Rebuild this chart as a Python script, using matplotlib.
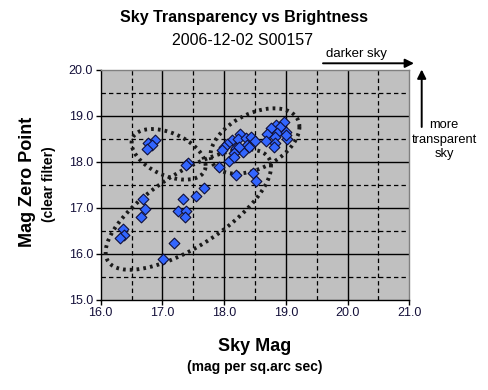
import numpy as np
import matplotlib
matplotlib.use("Agg")
import matplotlib.pyplot as plt

# ---- data ----
sky_mag = [
    16.88, 16.77, 16.83, 16.745,
    17.41, 17.38,
    16.69, 16.72, 16.65,
    16.36, 16.38, 16.32,
    17.19, 17.005,
    17.33, 17.25, 17.38, 17.37,
    17.545, 17.67, 17.917,
    18.19, 18.46, 18.52,
    18.258,
    18.971, 18.841, 18.906, 18.76, 18.69, 18.85, 19.003, 19.02, 19.01,
    18.825, 18.68, 18.825, 18.81,
    18.123, 18.22, 18.355, 18.43, 18.50, 18.366, 18.40, 18.04, 17.998,
    17.96, 18.20, 18.31, 18.165, 18.08, 18.165, 18.245,
]
zero_point = [
    18.47, 18.41, 18.36, 18.28,
    17.98, 17.93,
    17.19, 16.97, 16.80,
    16.54, 16.41, 16.35,
    16.23, 15.88,
    17.19, 16.93, 16.93, 16.80,
    17.26, 17.43, 17.88,
    17.71, 17.75, 17.57,
    18.61,
    18.87, 18.80, 18.76, 18.73, 18.60, 18.62, 18.65, 18.49, 18.57,
    18.54, 18.46, 18.41, 18.33,
    18.47, 18.49, 18.52, 18.54, 18.46, 18.36, 18.33, 18.38, 18.31,
    18.25, 18.30, 18.22, 18.20, 18.02, 18.11, 18.33,
]

x_ticks = [16.0, 17.0, 18.0, 19.0, 20.0, 21.0]
y_ticks = [15.0, 16.0, 17.0, 18.0, 19.0, 20.0]

# grouping ellipses: centre x, centre y, half-width x, half-height y, correlation
ellipse_cx = [17.10, 17.42, 18.50]
ellipse_cy = [18.16, 16.96, 18.45]
ellipse_sx = [0.60, 1.34, 0.72]
ellipse_sy = [0.55, 1.31, 0.71]
ellipse_rho = [-0.45, 0.71, 0.43]

title = "Sky Transparency vs Brightness"
subtitle = "2006-12-02 S00157"

plt.rcParams['font.family'] = ['Liberation Sans', 'DejaVu Sans']

W, H = 488, 390
fig = plt.figure(figsize=(W / 100, H / 100), dpi=100)
ax = fig.add_axes([100.7 / W, 1 - 299.7 / H, 308.6 / W, 230.0 / H])
ax.set_facecolor('#C0C0C0')
ax.set_xlim(16, 21)
ax.set_ylim(15, 20)

# grid
for v in np.arange(16.5, 21, 1.0):
    ax.axvline(v, color='black', lw=0.9, ls=(0, (3.5, 2.5)), zorder=1)
for v in np.arange(17, 21, 1.0):
    ax.axvline(v, color='black', lw=1.0, zorder=1)
for v in np.arange(15.5, 20, 1.0):
    ax.axhline(v, color='black', lw=0.9, ls=(0, (3.5, 2.5)), zorder=1)
for v in np.arange(16, 20, 1.0):
    ax.axhline(v, color='black', lw=1.0, zorder=1)

# ellipses
t = np.linspace(0, 2 * np.pi, 400)
for cx, cy, sx, sy, rho in zip(ellipse_cx, ellipse_cy, ellipse_sx, ellipse_sy, ellipse_rho):
    ex = cx + sx * np.cos(t)
    ey = cy + sy * (rho * np.cos(t) + np.sqrt(1 - rho ** 2) * np.sin(t))
    ax.plot(ex, ey, color='#1a1a1a', lw=2.8, ls=(0, (0.7, 1.05)), zorder=2)

ax.scatter(sky_mag, zero_point, marker='D', s=30, facecolor='#3366FF',
           edgecolor='#10103a', linewidths=0.8, zorder=3)

# spines
for s in ['top', 'right']:
    ax.spines[s].set_color('#808080')
    ax.spines[s].set_linewidth(1.0)
for s in ['left', 'bottom']:
    ax.spines[s].set_color('black')
    ax.spines[s].set_linewidth(1.0)

ax.set_xticks(x_ticks)
ax.set_yticks(y_ticks)
ax.set_xticklabels([f"{v:.1f}" for v in x_ticks])
ax.set_yticklabels([f"{v:.1f}" for v in y_ticks])
ax.tick_params(direction='out', length=3.5, width=1.0, color='black',
               labelsize=9, labelcolor='#14103a', pad=2)

# titles
fig.text(243.5 / W, 1 - 17.5 / H, title, ha='center', va='center',
         fontsize=11.5, fontweight='bold')
fig.text(242 / W, 1 - 40.5 / H, subtitle, ha='center', va='center', fontsize=11.5)

# axis labels
fig.text(255 / W, 1 - 346.5 / H, "Sky Mag", ha='center', va='center',
         fontsize=13, fontweight='bold')
fig.text(255 / W, 1 - 367 / H, "(mag per sq.arc sec)", ha='center', va='center',
         fontsize=10, fontweight='bold')
fig.text(28 / W, 1 - 182 / H, "Mag Zero Point", ha='center', va='center',
         fontsize=13, fontweight='bold', rotation=90)
fig.text(49.5 / W, 1 - 184 / H, "(clear filter)", ha='center', va='center',
         fontsize=10, fontweight='bold', rotation=90)

# direction annotations
fig.text(356 / W, 1 - 54 / H, "darker sky", ha='center', va='center', fontsize=9.5)
ax.annotate('', xy=(414 / W, 1 - 63.3 / H), xytext=(323 / W, 1 - 63.3 / H),
            xycoords='figure fraction', textcoords='figure fraction',
            arrowprops=dict(arrowstyle='-|>', color='black', lw=1.4,
                            mutation_scale=13, shrinkA=0, shrinkB=0))
ax.annotate('', xy=(421.7 / W, 1 - 69.5 / H), xytext=(421.7 / W, 1 - 127 / H),
            xycoords='figure fraction', textcoords='figure fraction',
            arrowprops=dict(arrowstyle='-|>', color='black', lw=1.4,
                            mutation_scale=13, shrinkA=0, shrinkB=0))
fig.text(444 / W, 1 - 139.5 / H, "more\ntransparent\nsky", ha='center', va='center',
         fontsize=9.3, linespacing=1.32)

fig.savefig('out.png', dpi=100, facecolor='white')
